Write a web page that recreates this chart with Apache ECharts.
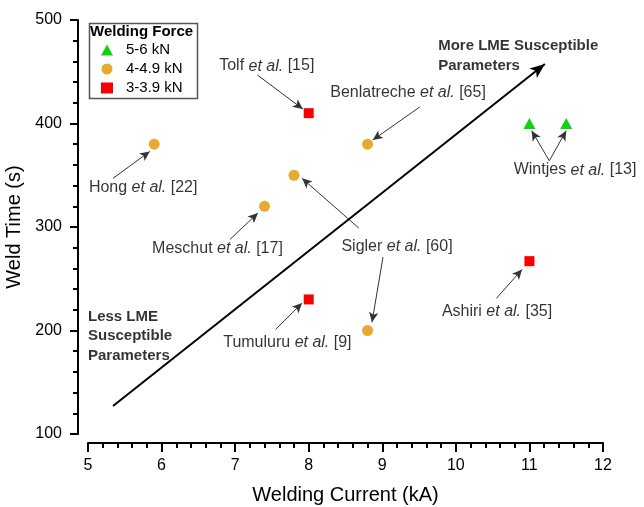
<!DOCTYPE html>
<html>
<head>
<meta charset="utf-8">
<script src="https://cdn.jsdelivr.net/npm/echarts@6/dist/echarts.min.js"></script>
<style>
  html, body { margin: 0; padding: 0; background: #fff; }
  #chart { width: 644px; height: 507px; }
</style>
</head>
<body>
<div id="chart"></div>
<script>
// welding force groups (legend)
var forceGroups = ['5-6 kN', '4-4.9 kN', '3-3.9 kN'];
// [current kA, weld time s]
var highForce = [[11, 400], [11.5, 400]];
var midForce = [[5.9, 380], [7.4, 320], [7.8, 350], [8.8, 380], [8.8, 200]];
var lowForce = [[8, 410], [8, 230], [11, 267]];

// reference labels: author, ref, x, y (centre of text)
var refLabels = [
    ['Tolf', '[15]', 7.43, 455.5],
    ['Hong', '[22]', 5.75, 338.5],
    ['Meschut', '[17]', 6.76, 279],
    ['Sigler', '[60]', 9.2, 281.5],
    ['Benlatreche', '[65]', 9.35, 429.5],
    ['Wintjes', '[13]', 11.62, 355],
    ['Tumuluru', '[9]', 7.71, 188],
    ['Ashiri', '[35]', 10.56, 218]
];

// pointer arrows: x1, y1, x2, y2
var pointers = [
    [7.30, 447, 7.92, 414],
    [5.34, 347, 5.84, 373],
    [6.93, 288, 7.31, 313.5],
    [8.68, 299, 7.91, 347],
    [9.01, 271, 8.86, 208],
    [9.51, 416, 8.87, 384],
    [11.27, 364, 11.03, 393],
    [11.27, 364, 11.50, 393],
    [7.55, 201, 7.91, 226.5],
    [10.55, 231, 10.90, 259]
];

// trend arrow
var trend = [5.34, 127, 11.21, 457.5];

// bold notes, anchored top-left
var notes = [
    ['More LME Susceptible\nParameters', 9.76, 484],
    ['Less LME\nSusceptible\nParameters', 5.0, 223]
];

var font = 'Liberation Sans, Arial, sans-serif';

var myChart = echarts.init(document.getElementById('chart'));

var labelData = refLabels.map(function (r) {
    return {
        value: [r[2], r[3]],
        label: { formatter: '{n|' + r[0] + ' }{i|et al.}{n| ' + r[1] + '}' }
    };
});
var noteData = notes.map(function (n) {
    return { value: [n[1], n[2]], label: { formatter: n[0] } };
});

var option = {
    animation: false,
    textStyle: { fontFamily: font, color: '#000' },
    grid: { left: 88, right: 41, top: 20, bottom: 73, outerBoundsMode: 'none', containLabel: false },
    legend: {
        orient: 'vertical',
        left: 101,
        top: 41,
        itemWidth: 12,
        itemHeight: 11,
        itemGap: 1,
        padding: 0,
        data: forceGroups,
        textStyle: { fontSize: 15, lineHeight: 18, color: '#000', fontFamily: font, padding: [0, 0, 0, 8] }
    },
    graphic: [
        {
            type: 'rect', left: 87, top: 21,
            shape: { width: 108, height: 75 },
            style: { fill: 'none', stroke: '#555', lineWidth: 1.5 }
        },
        {
            type: 'text', left: 90, top: 24,
            style: { text: 'Welding Force', font: 'bold 15px ' + font, fill: '#000' }
        }
    ],
    xAxis: {
        type: 'value', min: 5, max: 12, interval: 1, offset: 9,
        name: 'Welding Current (kA)', nameLocation: 'middle', nameGap: 42,
        nameTextStyle: { fontSize: 20, color: '#000' },
        axisLine: { lineStyle: { color: '#000', width: 2 } },
        axisTick: { length: 9, lineStyle: { width: 2 } },
        minorTick: { show: true, splitNumber: 5, length: 5, lineStyle: { color: '#000', width: 2 } },
        axisLabel: { fontSize: 16, color: '#000', margin: 15 },
        splitLine: { show: false }
    },
    yAxis: {
        type: 'value', min: 100, max: 500, interval: 100, offset: 10,
        name: 'Weld Time (s)', nameLocation: 'middle', nameGap: 47,
        nameTextStyle: { fontSize: 20, color: '#000' },
        axisLine: { show: true, lineStyle: { color: '#000', width: 2 } },
        axisTick: { show: true, length: 8, lineStyle: { width: 2 } },
        minorTick: { show: true, splitNumber: 5, length: 5, lineStyle: { color: '#000', width: 2 } },
        axisLabel: { fontSize: 16, color: '#000', margin: 16 },
        splitLine: { show: false }
    },
    series: [
        {
            name: forceGroups[0], type: 'scatter', data: highForce,
            symbol: 'triangle', symbolSize: [12, 11],
            itemStyle: { color: '#12D012', opacity: 1 }
        },
        {
            name: forceGroups[1], type: 'scatter', data: midForce,
            symbol: 'circle', symbolSize: 11,
            itemStyle: { color: '#E6A932', opacity: 1 }
        },
        {
            name: forceGroups[2], type: 'scatter', data: lowForce,
            symbol: 'rect', symbolSize: 10,
            itemStyle: { color: '#F80000', opacity: 1 }
        },
        {
            // pointer arrows and trend arrow
            type: 'line', data: [], silent: true,
            markLine: {
                silent: true, animation: false,
                symbol: ['none', 'arrow'],
                symbolSize: [7, 10],
                label: { show: false },
                lineStyle: { color: '#333', width: 1, type: 'solid' },
                emphasis: { disabled: true },
                data: pointers.map(function (p) {
                    return [{ coord: [p[0], p[1]] }, { coord: [p[2], p[3]] }];
                }).concat([[
                    { coord: [trend[0], trend[1]], lineStyle: { color: '#000', width: 2 } },
                    { coord: [trend[2], trend[3]], symbolSize: [9, 15] }
                ]])
            }
        },
        {
            type: 'scatter', data: labelData, silent: true,
            symbolSize: 0, itemStyle: { color: 'transparent' },
            label: {
                show: true, position: 'inside', color: '#000',
                rich: {
                    n: { fontSize: 16, fontFamily: font, color: '#000' },
                    i: { fontSize: 16, fontFamily: font, fontStyle: 'italic', color: '#000' }
                }
            }
        },
        {
            type: 'scatter', data: noteData, silent: true,
            symbolSize: 0, itemStyle: { color: 'transparent' },
            label: {
                show: true, position: [0, 0], align: 'left', verticalAlign: 'top',
                fontSize: 15, fontWeight: 'bold', lineHeight: 19.5, color: '#000', fontFamily: font
            }
        }
    ]
};

myChart.setOption(option);

window.onresize = function () {
    setTimeout(function () {
        myChart.resize();
    }, 50);
};
</script>
</body>
</html>
